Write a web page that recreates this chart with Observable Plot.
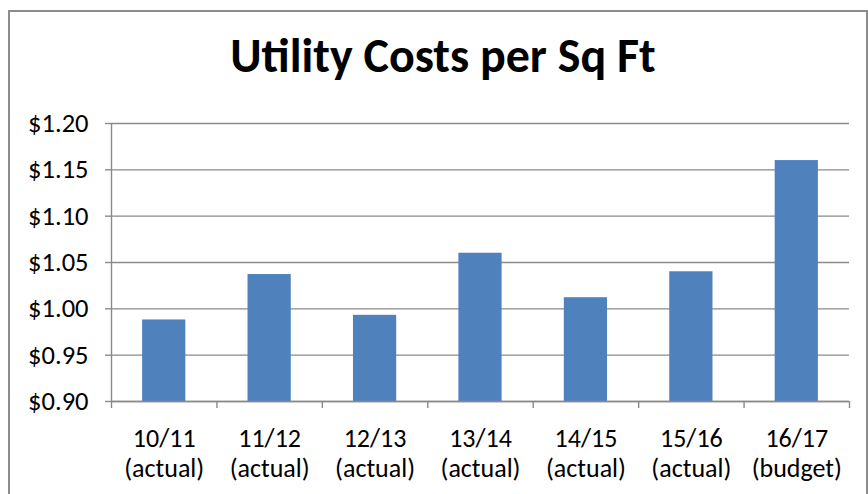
<!DOCTYPE html>
<html>
<head>
<meta charset="utf-8">
<script src="https://cdn.jsdelivr.net/npm/d3@7"></script>
<script src="https://cdn.jsdelivr.net/npm/@observablehq/plot@0.6"></script>
<style>
  html, body { margin: 0; padding: 0; background: #fff; }
  #wrap { position: relative; width: 868px; height: 494px; overflow: hidden; font-family: Carlito, Lato, "Open Sans", sans-serif; }
  #frame { position: absolute; left: 8px; top: 10px; width: 856px; height: 520px; border: 2px solid #8c8c8c; pointer-events: none; }
  #title { height: 100px; width: 868px; box-sizing: border-box; padding-left: 18px; padding-top: 28px; text-align: center; font-weight: 700; font-size: 48px; line-height: 56px; color: #000; }
  #chart svg { display: block; }
</style>
</head>
<body>
<div id="wrap">
  <div id="frame"></div>
  <div id="title">Utility Costs per Sq Ft</div>
  <div id="chart"></div>
</div>
<script>
const categories = ["10/11", "11/12", "12/13", "13/14", "14/15", "15/16", "16/17"];
const statuses = ["actual", "actual", "actual", "actual", "actual", "actual", "budget"];
const costs = [0.988, 1.037, 0.993, 1.060, 1.012, 1.040, 1.160];
const yTicks = [0.90, 0.95, 1.00, 1.05, 1.10, 1.15, 1.20];

const data = categories.map((c, i) => ({ i, cat: c, status: statuses[i], value: costs[i] }));
const grid = "#8a8a8a";

const chart = Plot.plot({
  width: 868,
  height: 394,
  marginLeft: 111,
  marginRight: 19,
  marginTop: 23,
  marginBottom: 93,
  style: { fontFamily: "Carlito, Lato, 'Open Sans', sans-serif", background: "transparent", overflow: "visible" },
  x: { type: "linear", domain: [0, categories.length], axis: null },
  y: { domain: [0.90, 1.20], axis: null },
  marks: [
    Plot.gridY(yTicks, { stroke: grid, strokeOpacity: 1, strokeWidth: 1.4 }),
    Plot.rectY(data, { x1: d => d.i + 0.295, x2: d => d.i + 0.705, y1: 0.90, y2: "value", fill: "#4F81BD" }),
    Plot.ruleX([0], { y1: 0.90, y2: 1.20, stroke: grid, strokeWidth: 1.4 }),
    Plot.ruleY([0.90], { stroke: grid, strokeWidth: 1.4 }),
    Plot.axisY({ ticks: yTicks, label: null, tickFormat: d => "$" + d.toFixed(2), tickSize: 6, tickPadding: 17, fontSize: 26.5, stroke: grid, strokeWidth: 1.4 }),
    Plot.axisX({ ticks: d3.range(categories.length + 1), label: null, tickFormat: () => "", tickSize: 7, stroke: grid, strokeWidth: 1.4 }),
    Plot.text(data, { x: d => d.i + 0.5, y: 0.90, text: d => `${d.cat}\n(${d.status})`, lineAnchor: "top", dy: 24, fontSize: 26, lineHeight: 1.154, fill: "#000" })
  ]
});
document.getElementById("chart").appendChild(chart);
</script>
</body>
</html>
